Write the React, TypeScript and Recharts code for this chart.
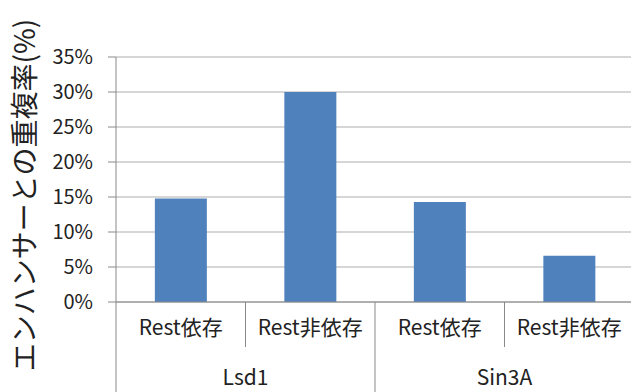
import React from 'react';
import { BarChart, Bar, XAxis, YAxis, CartesianGrid } from 'recharts';

const categories = ['Rest依存', 'Rest非依存', 'Rest依存', 'Rest非依存'];
const groups = ['Lsd1', 'Lsd1', 'Sin3A', 'Sin3A'];
const overlapRate = [0.148, 0.30, 0.143, 0.066];
const yTicks = [0, 0.05, 0.1, 0.15, 0.2, 0.25, 0.3, 0.35];

const FONT = '"Noto Sans CJK JP", "Noto Sans", sans-serif';
const TEXT = '#222';
const AXIS = '#898989';
const GRID = '#c8c8c8';

const data = categories.map((cat, i) => ({
  cat,
  group: groups[i],
  rate: overlapRate[i],
}));

function CategoryTick(props: any) {
  const { x, y, payload, index } = props;
  const half = payload && payload.offset ? payload.offset : 65;
  const left = x - half;
  const groupStart = index === 0 || groups[index] !== groups[index - 1];
  return (
    <g>
      <line x1={left} y1={y} x2={left} y2={groupStart ? y + 100 : y + 45} stroke={AXIS} strokeWidth={1} />
      <text x={x} y={y + 27} textAnchor="middle" dominantBaseline="middle" fontSize={21} fill={TEXT} fontFamily={FONT}>
        {payload.value}
      </text>
      {groupStart && (
        <text x={x + half} y={y + 77} textAnchor="middle" dominantBaseline="middle" fontSize={21} fill={TEXT} fontFamily={FONT}>
          {groups[index]}
        </text>
      )}
    </g>
  );
}

function YTitle() {
  return (
    <text
      x={27}
      y={195}
      transform="rotate(-90 27 195)"
      textAnchor="middle"
      dominantBaseline="middle"
      fontSize={28}
      fill={TEXT}
      fontFamily={FONT}
    >
      エンハンサーとの重複率(%)
    </text>
  );
}

export default function App() {
  return (
    <div style={{ position: 'absolute', left: 0, top: 0, width: 631, height: 392, overflow: 'hidden', background: '#fff' }}>
      <BarChart
        width={634}
        height={392}
        data={data}
        margin={{ top: 57, right: 0, bottom: 0, left: 0 }}
        barCategoryGap="30%"
      >
        <CartesianGrid vertical={false} stroke={GRID} strokeWidth={1.5} />
        <XAxis
          dataKey="cat"
          interval={0}
          height={90}
          tickLine={false}
          tickSize={0}
          tickMargin={0}
          axisLine={{ stroke: AXIS }}
          tick={<CategoryTick />}
        />
        <YAxis
          width={116}
          domain={[0, 0.35]}
          ticks={yTicks}
          interval={0}
          tickSize={8}
          tickMargin={15}
          axisLine={{ stroke: AXIS }}
          tickLine={{ stroke: AXIS }}
          tick={{ fontSize: 20, fill: TEXT, fontFamily: FONT }}
          tickFormatter={(v: number) => `${Math.round(v * 100)}%`}
          label={<YTitle />}
        />
        <Bar dataKey="rate" fill="#4f81bd" isAnimationActive={false} />
      </BarChart>
    </div>
  );
}
